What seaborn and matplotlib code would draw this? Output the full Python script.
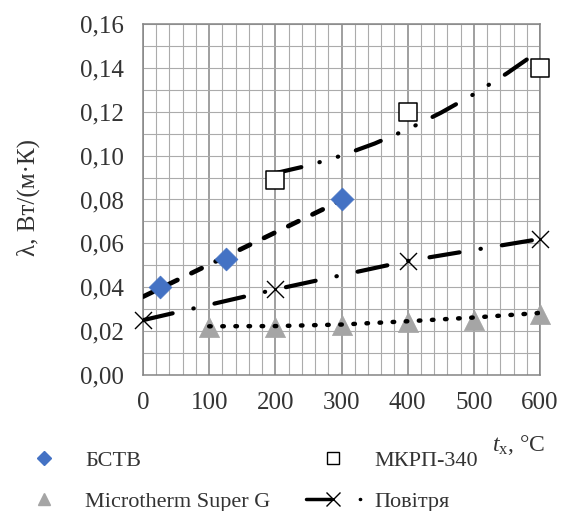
import numpy as np
import pandas as pd
import matplotlib
matplotlib.use("Agg")
import matplotlib.pyplot as plt
import seaborn as sns
from matplotlib.lines import Line2D
from matplotlib.ticker import MultipleLocator, FuncFormatter

# ---- data ----
bstv_t = [25, 125, 300]
bstv_k = [0.040, 0.053, 0.080]

mkrp_t = [200, 400, 600]
mkrp_k = [0.089, 0.120, 0.140]
mkrp_trend_t = [200, 250, 300, 350, 400, 450, 500, 550, 600]
mkrp_trend_k = [0.092, 0.0955, 0.100, 0.1055, 0.112, 0.1195, 0.128, 0.1375, 0.148]

micro_t = [100, 200, 300, 400, 500, 600]
micro_k = [0.022, 0.022, 0.023, 0.024, 0.025, 0.028]
micro_trend_t = [100, 200, 300, 400, 500, 600]
micro_trend_k = [0.0222, 0.0223, 0.0230, 0.0245, 0.0262, 0.0283]

air_t = [0, 200, 400, 600]
air_k = [0.025, 0.039, 0.052, 0.062]

labels = ["БСТВ", "Microtherm Super G", "МКРП-340", "Повітря"]
x_ticks = [0, 100, 200, 300, 400, 500, 600]
y_ticks = [0.00, 0.02, 0.04, 0.06, 0.08, 0.10, 0.12, 0.14, 0.16]

# linear trend for БСТВ, fitted from its points
b1, b0 = np.polyfit(bstv_t, bstv_k, 1)
bstv_trend_t = [0, 300]
bstv_trend = pd.DataFrame({"t": bstv_trend_t, "k": [b0 + b1 * t for t in bstv_trend_t]})

df_bstv = pd.DataFrame({"t": bstv_t, "k": bstv_k})
df_mkrp = pd.DataFrame({"t": mkrp_t, "k": mkrp_k})
df_mkrp_tr = pd.DataFrame({"t": mkrp_trend_t, "k": mkrp_trend_k})
df_micro = pd.DataFrame({"t": micro_t, "k": micro_k})
df_micro_tr = pd.DataFrame({"t": micro_trend_t, "k": micro_trend_k})
df_air = pd.DataFrame({"t": air_t, "k": air_k})

sns.set_theme(style="white")
plt.rcParams["font.family"] = ["Liberation Serif", "DejaVu Serif"]
plt.rcParams["mathtext.fontset"] = "custom"
plt.rcParams["mathtext.rm"] = "Liberation Serif"
plt.rcParams["mathtext.it"] = "Liberation Serif:italic"

W, H = 568, 511
fig = plt.figure(figsize=(W / 100, H / 100), dpi=100)
ax = fig.add_axes([143 / W, 1 - 375 / H, 397 / W, 351 / H])

grid_c = "#ABABAB"
text_c = "#333333"
ax.set_xlim(0, 600)
ax.set_ylim(0, 0.16)
ax.set_xticks(x_ticks)
ax.set_yticks(y_ticks)
ax.xaxis.set_minor_locator(MultipleLocator(20))
ax.yaxis.set_minor_locator(MultipleLocator(0.01))
ax.grid(which="minor", color=grid_c, lw=0.8)
ax.grid(which="major", axis="y", color=grid_c, lw=0.8)
ax.grid(which="major", axis="x", color="#858585", lw=1.1)
ax.set_axisbelow(True)
for s in ax.spines.values():
    s.set_color("#858585")
    s.set_linewidth(1.1)
ax.tick_params(which="minor", length=0)
ax.tick_params(which="major", length=7, width=1.1, color="#858585",
               labelsize=18, labelcolor=text_c)
ax.tick_params(axis="y", pad=7)
ax.tick_params(axis="x", pad=5)
ax.yaxis.set_major_formatter(FuncFormatter(lambda v, p: f"{v:.2f}".replace(".", ",")))

# ---- lines ----
sns.lineplot(data=bstv_trend, x="t", y="k", ax=ax, color="black", lw=3.4,
             linestyle=(0, (2.4, 3.3)), dash_capstyle="round", errorbar=None, zorder=3)
sns.lineplot(data=df_mkrp_tr, x="t", y="k", ax=ax, color="black", lw=3.0,
             linestyle=(0, (6.4, 4.5, 0.1, 4.5, 0.1, 4.5)), dash_capstyle="round",
             errorbar=None, zorder=3)
sns.lineplot(data=df_micro_tr, x="t", y="k", ax=ax, color="black", lw=3.2,
             linestyle=(0, (0.35, 2.6)), dash_capstyle="round", errorbar=None, zorder=6)
sns.lineplot(data=df_air, x="t", y="k", ax=ax, color="black", lw=3.0,
             linestyle=(0, (7.3, 5.1, 0.1, 5.1)), dash_capstyle="round", errorbar=None, zorder=3)

# ---- markers ----
sns.scatterplot(data=df_bstv, x="t", y="k", ax=ax, marker="D", s=135,
                color="#4472C4", edgecolor="#4472C4", linewidth=0.5, zorder=5, clip_on=False)
sns.scatterplot(data=df_mkrp, x="t", y="k", ax=ax, marker="s", s=175,
                facecolor="white", edgecolor="black", linewidth=1.1, zorder=5, clip_on=False)
sns.scatterplot(data=df_micro, x="t", y="k", ax=ax, marker="^", s=210,
                color="#A5A5A5", edgecolor="#A5A5A5", linewidth=0.5, zorder=4, clip_on=False)
sns.scatterplot(data=df_air, x="t", y="k", ax=ax, marker="x", s=150,
                color="black", linewidth=1.0, zorder=5, clip_on=False)

ax.set_xlabel("")
ax.set_ylabel("")

fig.text(28 / W, 1 - 198 / H, "λ, Вт/(м·К)", rotation=90, ha="center", va="center",
         fontsize=18, color=text_c)
fig.text(492 / W, 1 - 445 / H, r"$t_{\mathrm{x}}$, °C", ha="left", va="center",
         fontsize=17, color=text_c)

# ---- legend ----
handles = [
    Line2D([], [], ls="none", marker="D", ms=7, color="#4472C4"),
    Line2D([], [], ls="none", marker="^", ms=9, color="#A5A5A5"),
    Line2D([], [], ls="none", marker="s", ms=8, mfc="white", mec="black", mew=1.0),
    Line2D([], [], color="black", lw=2.5, linestyle=(0, (7, 8.5, 0.1, 10)),
           dash_capstyle="round", marker="x", ms=10, mew=1.0),
]
fig.legend(handles, labels, ncol=2, loc="upper left",
           bbox_to_anchor=(16 / W, 1 - 450 / H), frameon=False, fontsize=16,
           handlelength=2.5, handletextpad=0.6, columnspacing=1.6,
           labelspacing=0.95, borderpad=0, borderaxespad=0, labelcolor=text_c)

fig.savefig("out.png", dpi=100)
